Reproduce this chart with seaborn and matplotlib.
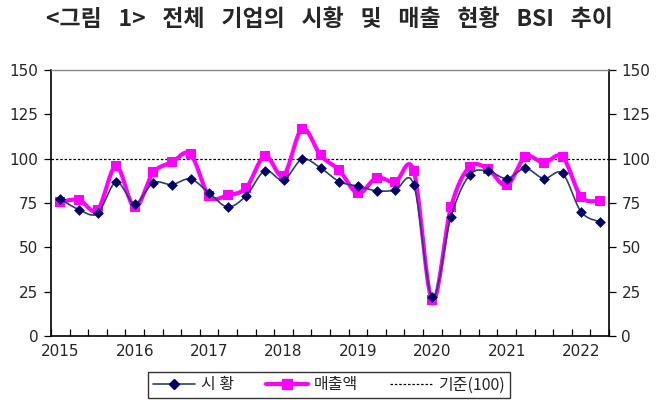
import numpy as np
import pandas as pd
import matplotlib
matplotlib.use("Agg")
import matplotlib.pyplot as plt
import seaborn as sns
from matplotlib.lines import Line2D

# ---- data ----
quarters = [f"{y}Q{q}" for y in range(2015, 2023) for q in range(1, 5)][:30]
market = [77.2, 71.3, 69.1, 86.8, 74.7, 86.4, 85.4, 88.5, 80.7, 72.8,
          79.2, 93.2, 87.9, 99.7, 94.7, 87.1, 84.5, 81.9, 82.2, 85.4,
          22.0, 67.2, 90.7, 93.0, 88.8, 94.5, 88.8, 91.7, 70.0, 64.4]
sales = [75.5, 76.8, 71.0, 95.8, 72.5, 92.2, 97.9, 102.6, 78.9, 79.4,
         83.7, 101.6, 90.5, 116.9, 101.8, 93.5, 80.4, 89.2, 86.8, 93.2,
         20.1, 72.5, 95.4, 94.1, 84.9, 101.1, 97.7, 101.1, 78.5, 76.2]
year_labels = ["2015", "2016", "2017", "2018", "2019", "2020", "2021", "2022"]
y_ticks = [0, 25, 50, 75, 100, 125, 150]
baseline = 100

title = "<그림 1> 전체 기업의 시황 및 매출 현황 BSI 추이"
labels = ["시 황", "매출액", "기준(100)"]

sns.set_theme(style="white")
plt.rcParams['font.family'] = ['Noto Sans CJK KR', 'DejaVu Sans']

df = pd.DataFrame({"q": quarters, "idx": np.arange(len(quarters)),
                   "market": market, "sales": sales})


def smooth(xv, yv, n=20):
    xv = np.asarray(xv, float)
    yv = np.asarray(yv, float)
    P = np.column_stack([xv, yv])
    out = []
    for i in range(len(P) - 1):
        p0 = P[i - 1] if i > 0 else P[i]
        p1 = P[i]
        p2 = P[i + 1]
        p3 = P[i + 2] if i + 2 < len(P) else P[i + 1]
        c1 = p1 + (p2 - p0) / 6.0
        c2 = p2 - (p3 - p1) / 6.0
        t = np.linspace(0, 1, n, endpoint=False)[:, None]
        seg = ((1 - t) ** 3) * p1 + 3 * ((1 - t) ** 2) * t * c1 + 3 * (1 - t) * t ** 2 * c2 + t ** 3 * p2
        out.append(seg)
    out.append(P[-1:])
    arr = np.vstack(out)
    return arr[:, 0], arr[:, 1]


fig = plt.figure(figsize=(6.58, 4.03), dpi=100)
ax = fig.add_axes([51 / 658, 1 - 336 / 403, 558 / 658, 266 / 403])

navy = "#000066"
navy_line = "#2B4070"
mag = "#FF00FF"

ax.axhline(baseline, color="black", lw=0.9, ls=(0, (2, 1.5)), zorder=1)

sx, sy = smooth(df["idx"], df["sales"])
sns.lineplot(x=sx, y=sy, ax=ax, color=mag, lw=3.0, sort=False, zorder=2)
sns.scatterplot(data=df, x="idx", y="sales", ax=ax, marker="s", s=55,
                color=mag, edgecolor=mag, linewidth=0, zorder=3)

mx, my = smooth(df["idx"], df["market"])
sns.lineplot(x=mx, y=my, ax=ax, color=navy_line, lw=1.2, sort=False, zorder=4)
sns.scatterplot(data=df, x="idx", y="market", ax=ax, marker="D", s=30,
                color=navy, edgecolor=navy, linewidth=0, zorder=5)

ax.set_xlim(-0.5, len(quarters) - 0.5)
ax.set_ylim(0, 150)
ax.set_yticks(y_ticks)
ax.set_yticklabels([str(v) for v in y_ticks], fontsize=11, family="DejaVu Sans")
ax.set_xticks(np.arange(0, len(quarters), 4))
ax.set_xticklabels(year_labels, fontsize=11, family="DejaVu Sans")
ax.set_xticks(np.arange(-0.5, len(quarters) + 0.5, 1), minor=True)
ax.tick_params(axis="x", which="major", length=0, pad=6)
ax.tick_params(axis="x", which="minor", length=5, width=0.9, direction="in", color="black", bottom=True)
ax.tick_params(axis="y", which="major", length=5, width=0.9, direction="out", color="black", left=True, pad=4)
ax.set_xlabel("")
ax.set_ylabel("")

for s in ["left", "bottom", "right"]:
    ax.spines[s].set_color("black")
    ax.spines[s].set_linewidth(1.2)
ax.spines["top"].set_color("#888888")
ax.spines["top"].set_linewidth(1.0)

ax2 = ax.twinx()
ax2.set_ylim(0, 150)
ax2.set_yticks(y_ticks)
ax2.set_yticklabels([str(v) for v in y_ticks], fontsize=11, family="DejaVu Sans")
ax2.tick_params(axis="y", length=5, width=0.9, direction="out", color="black", right=True, pad=4)
for s in ax2.spines.values():
    s.set_visible(False)
ax2.grid(False)
ax.grid(False)

fig.text(0.5, 1 - 20 / 403, title.replace(" ", "\u2002 "), ha="center", va="center",
         fontsize=16.5, fontweight="bold")

handles = [
    Line2D([0], [0], color=navy_line, lw=1.2, marker="D", markersize=5, markerfacecolor=navy, markeredgecolor=navy),
    Line2D([0], [0], color=mag, lw=3.0, marker="s", markersize=7, markerfacecolor=mag, markeredgecolor=mag),
    Line2D([0], [0], color="black", lw=0.9, ls=(0, (2, 1.5))),
]
leg = fig.legend(handles, labels, loc="center", bbox_to_anchor=(329 / 658, 1 - 385 / 403), ncol=3,
                 fontsize=11.5, frameon=True, fancybox=False, edgecolor="black", handlelength=2.6,
                 columnspacing=2.0, handletextpad=0.4, borderpad=0.3)
leg.get_frame().set_linewidth(1.0)

fig.savefig("out.png", dpi=100)
